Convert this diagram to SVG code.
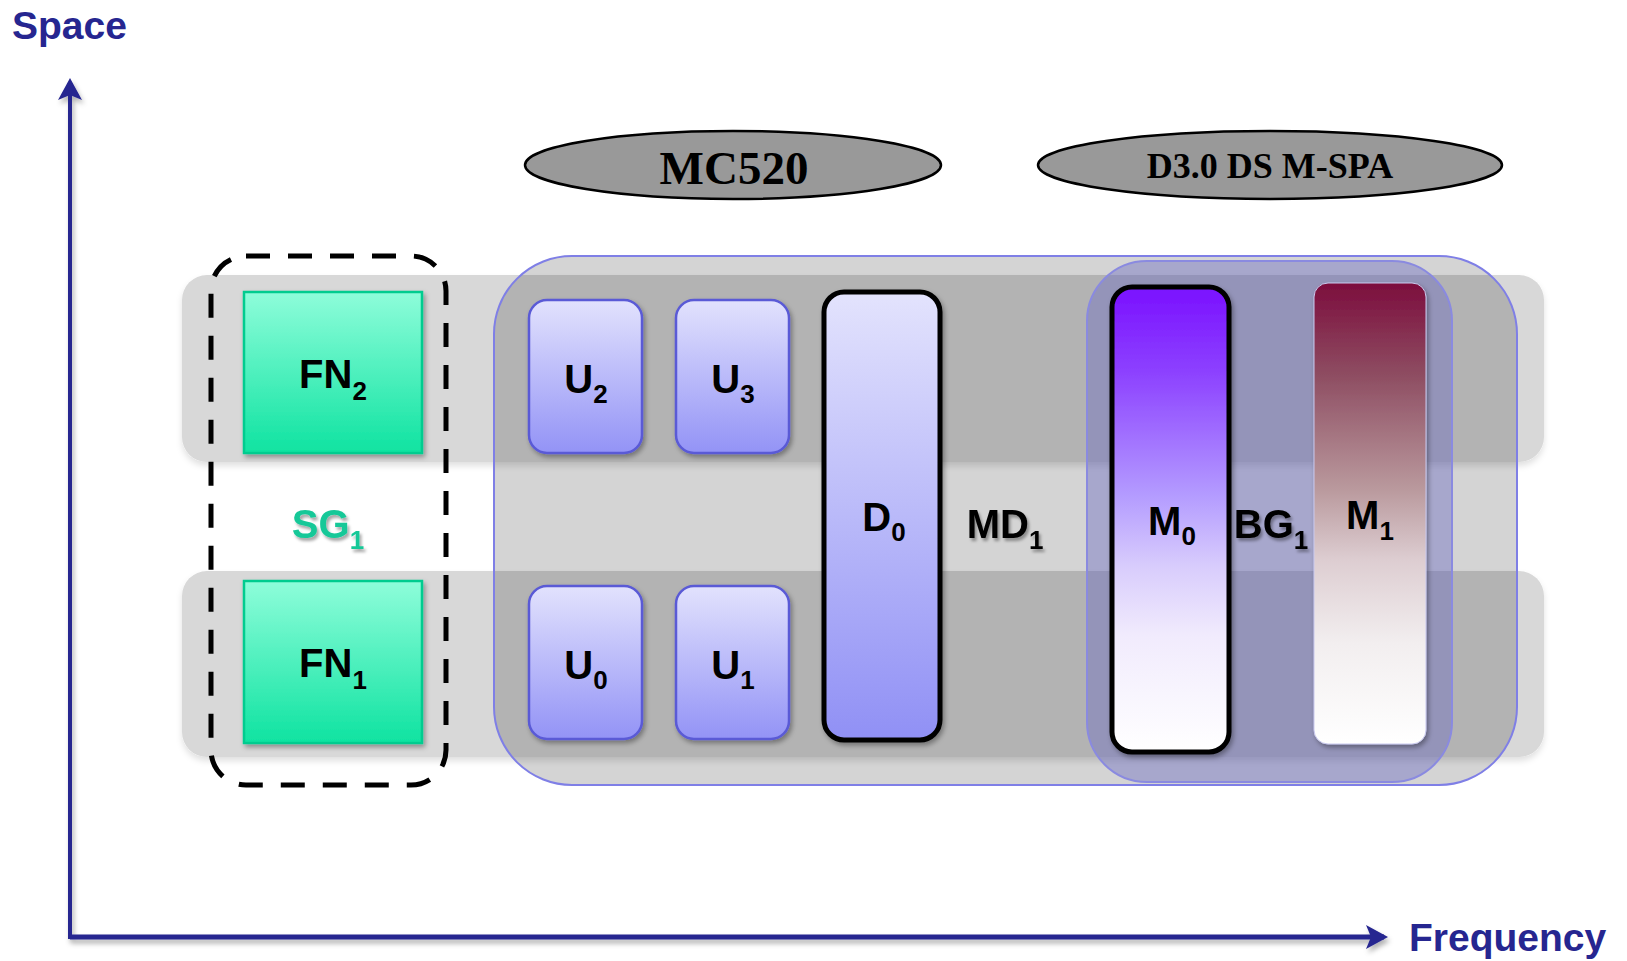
<svg xmlns="http://www.w3.org/2000/svg" width="1627" height="961" viewBox="0 0 1627 961">
<style>
.lbl{font-family:"Liberation Sans",Arial,sans-serif;font-weight:bold;font-size:40px;fill:#000;text-anchor:middle}
.sub{font-size:26px}
.axlbl{font-family:"Liberation Sans",Arial,sans-serif;font-weight:bold;font-size:39px;fill:#262690}
.ell{fill:#999999;stroke:#000;stroke-width:2.5}
.elltxt{font-family:"Liberation Serif","Times New Roman",serif;font-weight:bold;fill:#000;text-anchor:middle}
.band{fill:#d8d8d8}
.ubox{fill:url(#uGrad);stroke:#5a5ad6;stroke-width:2.5}
.fn{fill:url(#fnGrad);stroke:#00cc8f;stroke-width:2.5}
.axis{stroke:#262690;fill:none}
</style>
<defs>
<linearGradient id="fnGrad" x1="0" y1="0" x2="0" y2="1"><stop offset="0" stop-color="#8efdda"/><stop offset="1" stop-color="#0fe3a1"/></linearGradient>
<linearGradient id="uGrad" x1="0" y1="0" x2="0" y2="1"><stop offset="0" stop-color="#e2e2fd"/><stop offset="1" stop-color="#9393f6"/></linearGradient>
<linearGradient id="dGrad" x1="0" y1="0" x2="0" y2="1"><stop offset="0" stop-color="#e3e3fd"/><stop offset="1" stop-color="#9090f5"/></linearGradient>
<linearGradient id="m0Grad" x1="0" y1="0" x2="0" y2="1"><stop offset="0" stop-color="#7a10ff"/><stop offset="0.18" stop-color="#8c40ff"/><stop offset="0.45" stop-color="#b49cff"/><stop offset="0.6" stop-color="#d8ccfc"/><stop offset="0.75" stop-color="#f1ebfd"/><stop offset="1" stop-color="#ffffff"/></linearGradient>
<linearGradient id="m1Grad" x1="0" y1="0" x2="0" y2="1"><stop offset="0" stop-color="#7c0d3d"/><stop offset="0.2" stop-color="#8e4d62"/><stop offset="0.45" stop-color="#ba9a9e"/><stop offset="0.6" stop-color="#ddcdd1"/><stop offset="0.78" stop-color="#f2eeef"/><stop offset="1" stop-color="#ffffff"/></linearGradient>
<filter id="sh" x="-10%" y="-10%" width="130%" height="130%"><feDropShadow dx="2" dy="3" stdDeviation="2.5" flood-color="#000" flood-opacity="0.35"/></filter>
<filter id="ash" filterUnits="userSpaceOnUse" x="0" y="0" width="1627" height="961"><feDropShadow dx="2" dy="4" stdDeviation="2.5" flood-color="#000" flood-opacity="0.3"/></filter>
<filter id="bsh" x="-5%" y="-10%" width="110%" height="130%"><feDropShadow dx="0" dy="4" stdDeviation="3" flood-color="#000" flood-opacity="0.12"/></filter>
<filter id="tsh" x="-20%" y="-20%" width="140%" height="150%"><feDropShadow dx="2" dy="3" stdDeviation="1.5" flood-color="#000" flood-opacity="0.35"/></filter>
<marker id="arr" viewBox="-2 -14 26 28" refX="18" refY="0" markerWidth="26" markerHeight="28" markerUnits="userSpaceOnUse" orient="auto">
<path d="M0,-12 L22,0 L0,12 L5,0 Z" fill="#262690"/>
</marker>
</defs>
<rect width="1627" height="961" fill="#ffffff"/>

<g id="bands">
<rect class="band" x="182" y="275" width="1362" height="187" rx="25" filter="url(#bsh)"/>
<rect class="band" x="182" y="571" width="1362" height="186" rx="25" filter="url(#bsh)"/>
</g>

<g id="MD1-group">
<rect x="494" y="256" width="1023" height="529" rx="78" fill="#000" fill-opacity="0.17" stroke="#7f7fe6" stroke-width="2"/>
<text class="lbl" x="1005" y="538" filter="url(#tsh)">MD<tspan class="sub" dy="11">1</tspan></text>
</g>

<g id="BG1-group">
<rect x="1087" y="261" width="365" height="521" rx="60" fill="#6868c2" fill-opacity="0.42" stroke="#8a8ae0" stroke-width="2"/>
<text class="lbl" x="1271" y="538" filter="url(#tsh)">BG<tspan class="sub" dy="11">1</tspan></text>
</g>

<g id="SG1">
<rect x="211" y="256" width="235" height="529" rx="35" fill="none" stroke="#000" stroke-width="5" stroke-dasharray="24 18"/>
<text class="lbl" x="328" y="538" style="fill:#18c898" filter="url(#tsh)">SG<tspan class="sub" dy="11">1</tspan></text>
</g>

<g id="FN2">
<rect class="fn" x="244" y="292" width="178" height="161" filter="url(#sh)"/>
<text class="lbl" x="333" y="388">FN<tspan class="sub" dy="12">2</tspan></text>
</g>
<g id="FN1">
<rect class="fn" x="244" y="581" width="178" height="162" filter="url(#sh)"/>
<text class="lbl" x="333" y="677">FN<tspan class="sub" dy="12">1</tspan></text>
</g>

<g id="U2">
<rect class="ubox" x="529" y="300" width="113" height="153" rx="18" filter="url(#sh)"/>
<text class="lbl" x="586" y="393">U<tspan class="sub" dy="10">2</tspan></text>
</g>
<g id="U3">
<rect class="ubox" x="676" y="300" width="113" height="153" rx="18" filter="url(#sh)"/>
<text class="lbl" x="733" y="393">U<tspan class="sub" dy="10">3</tspan></text>
</g>
<g id="U0">
<rect class="ubox" x="529" y="586" width="113" height="153" rx="18" filter="url(#sh)"/>
<text class="lbl" x="586" y="679">U<tspan class="sub" dy="10">0</tspan></text>
</g>
<g id="U1">
<rect class="ubox" x="676" y="586" width="113" height="153" rx="18" filter="url(#sh)"/>
<text class="lbl" x="733" y="679">U<tspan class="sub" dy="10">1</tspan></text>
</g>

<g id="D0">
<rect x="824" y="292" width="116" height="448" rx="20" fill="url(#dGrad)" stroke="#000" stroke-width="5" filter="url(#sh)"/>
<text class="lbl" x="884" y="531">D<tspan class="sub" dy="10">0</tspan></text>
</g>

<g id="M0">
<rect x="1112" y="287" width="117" height="465" rx="20" fill="url(#m0Grad)" stroke="#000" stroke-width="5" filter="url(#sh)"/>
<text class="lbl" x="1172" y="535">M<tspan class="sub" dy="10">0</tspan></text>
</g>

<g id="M1">
<rect x="1314" y="283" width="112" height="461" rx="14" fill="url(#m1Grad)" stroke="#c9c9ee" stroke-width="1" filter="url(#sh)"/>
<text class="lbl" x="1370" y="529">M<tspan class="sub" dy="11">1</tspan></text>
</g>

<g id="MC520">
<ellipse class="ell" cx="733" cy="165" rx="208" ry="34"/>
<text class="elltxt" x="734" y="184" font-size="47">MC520</text>
</g>
<g id="D3-DS-M-SPA">
<ellipse class="ell" cx="1270" cy="165" rx="232" ry="34"/>
<text class="elltxt" x="1270" y="178" font-size="36">D3.0 DS M-SPA</text>
</g>

<g id="connectors" filter="url(#ash)">
<path class="axis" d="M70,939 V82" stroke-width="4" marker-end="url(#arr)"/>
<path class="axis" d="M70,937 H1384" stroke-width="5" marker-end="url(#arr)"/>
</g>

<g id="axis-labels">
<text class="axlbl" x="12" y="39">Space</text>
<text class="axlbl" x="1409" y="951">Frequency</text>
</g>
</svg>
